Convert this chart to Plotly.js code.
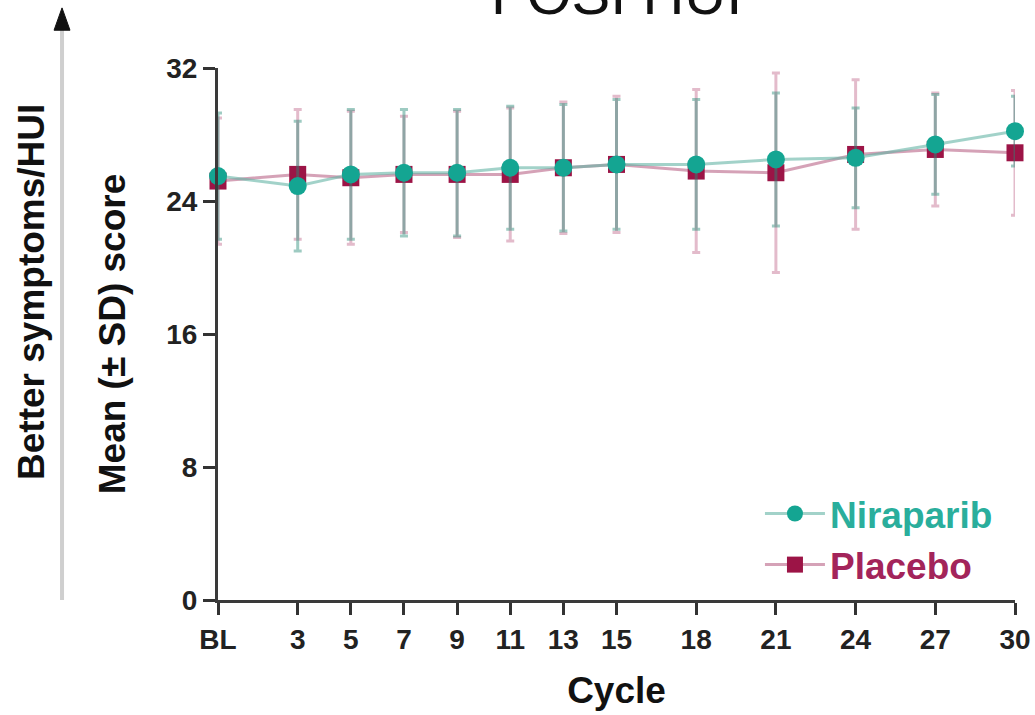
<!DOCTYPE html>
<html>
<head>
<meta charset="utf-8">
<script src="https://cdn.plot.ly/plotly-3.0.1.min.js"></script>
<style>html,body{margin:0;padding:0;background:#fff;}#chart{width:1035px;height:715px;}</style>
</head>
<body>
<div id="chart"></div>
<script>
// Data
const cycles = [0, 3, 5, 7, 9, 11, 13, 15, 18, 21, 24, 27, 30];
const cycleLabels = ['BL', '3', '5', '7', '9', '11', '13', '15', '18', '21', '24', '27', '30'];
const niraparibMean = [25.5, 24.9, 25.6, 25.7, 25.7, 26.0, 26.0, 26.2, 26.2, 26.5, 26.6, 27.4, 28.2];
const niraparibSD   = [3.8, 3.9, 3.9, 3.8, 3.8, 3.7, 3.8, 3.9, 3.9, 4.0, 3.0, 3.0, 2.1];
const placeboMean   = [25.2, 25.6, 25.4, 25.6, 25.6, 25.6, 26.0, 26.2, 25.8, 25.7, 26.8, 27.1, 26.9];
const placeboSD     = [3.8, 3.9, 4.0, 3.5, 3.8, 4.0, 3.95, 4.1, 4.9, 6.0, 4.5, 3.4, 3.75];
const yTicks = [0, 8, 16, 24, 32];

const FONT = 'Liberation Sans, Arial, sans-serif';
const TEAL = '#14a592';
const MAROON = '#9c1446';

const traces = [
  {
    x: cycles, y: placeboMean, type: 'scatter', mode: 'lines+markers',
    name: '<b><span style="color:#a3245a">Placebo</span></b>',
    legendgroup: 'p',
    line: {color: 'rgba(185,100,135,0.6)', width: 3},
    marker: {symbol: 'square', size: 17, color: MAROON},
    error_y: {type: 'data', array: placeboSD, visible: true, color: 'rgba(175,60,105,0.35)', thickness: 3, width: 4},
    cliponaxis: false
  },
  {
    x: cycles, y: niraparibMean, type: 'scatter', mode: 'lines+markers',
    name: '<b><span style="color:#2aae9c">Niraparib</span></b>',
    legendgroup: 'n',
    line: {color: 'rgba(100,180,165,0.6)', width: 3},
    marker: {symbol: 'circle', size: 18, color: TEAL},
    error_y: {type: 'data', array: niraparibSD, visible: true, color: 'rgba(40,140,120,0.45)', thickness: 3, width: 4},
    cliponaxis: false
  }
];

const layout = {
  width: 1035, height: 715,
  margin: {l: 218, r: 20, t: 68, b: 115},
  paper_bgcolor: '#ffffff', plot_bgcolor: '#ffffff',
  font: {family: FONT, color: '#111'},
  showlegend: true,
  legend: {
    x: 0.68, y: 0.22, xanchor: 'left', yanchor: 'top',
    traceorder: 'reversed',
    font: {family: FONT, size: 37},
    bgcolor: 'rgba(0,0,0,0)', itemwidth: 60, tracegroupgap: 8
  },
  xaxis: {
    range: [0, 30], tickvals: cycles, ticktext: cycleLabels,
    showgrid: false, zeroline: false, showline: true, linecolor: '#3a3a3a', linewidth: 3,
    ticks: 'outside', ticklen: 12, tickwidth: 3, tickcolor: '#333',
    tickfont: {family: FONT, size: 28, color: '#222', weight: 'bold'},
    title: {text: '<b>Cycle</b>', font: {family: FONT, size: 37, color: '#111'}, standoff: 24}
  },
  yaxis: {
    range: [0, 32], tickvals: yTicks,
    showgrid: false, zeroline: false, showline: true, linecolor: '#3a3a3a', linewidth: 3,
    ticks: 'outside', ticklen: 12, tickwidth: 3, tickcolor: '#333',
    tickfont: {family: FONT, size: 28, color: '#222', weight: 'bold'},
    title: {text: '<b>Mean (± SD) score</b>', font: {family: FONT, size: 37, color: '#111'}, standoff: 30}
  },
  annotations: [
    {text: 'FOSI HUI', xref: 'paper', yref: 'paper', x: 0.5, y: 1.075, xanchor: 'center', yanchor: 'bottom',
     showarrow: false, font: {family: FONT, size: 58, color: '#111'}},
    {text: '<b>Better symptoms/HUI</b>', xref: 'paper', yref: 'paper', x: -0.2334, y: 0.579, xanchor: 'center', yanchor: 'middle',
     textangle: -90, showarrow: false, font: {family: FONT, size: 37, color: '#111'}}
  ],
  shapes: [
    {type: 'line', xref: 'paper', yref: 'paper', x0: -0.1957, x1: -0.1957, y0: 0.0, y1: 1.075,
     line: {color: '#cfcfcf', width: 4}},
    {type: 'path', xref: 'paper', yref: 'paper',
     path: 'M -0.2057 1.071 L -0.1857 1.071 L -0.1957 1.113 Z', fillcolor: '#111', line: {color: '#111', width: 1}}
  ]
};

Plotly.newPlot('chart', traces, layout, {displayModeBar: false, staticPlot: true});
</script>
</body>
</html>
